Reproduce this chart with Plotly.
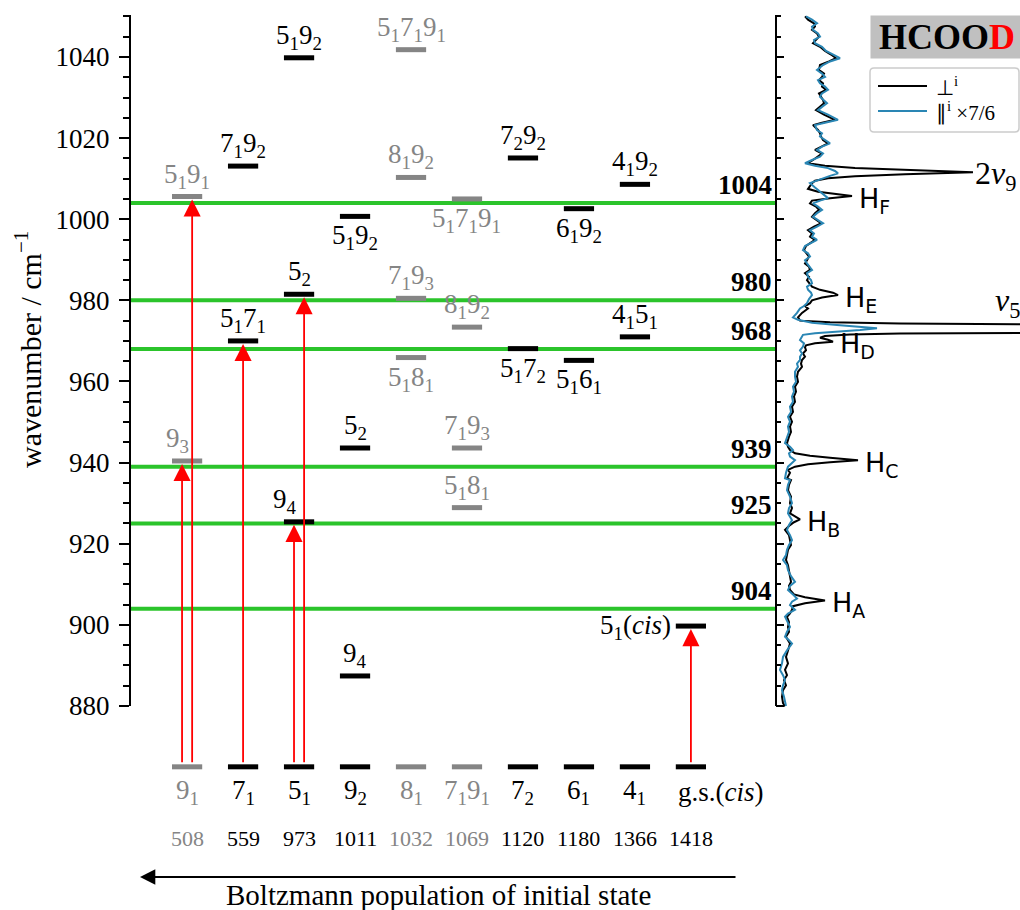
import plotly.graph_objects as go

W, H = 1020, 910
SERIF = "Liberation Serif, Times New Roman, serif"
SANS = "DejaVu Sans, sans-serif"
GRAY = "#858585"
GREEN = "#2bc42b"
BLUE = "#2a86b4"

# ---------------- level diagram data ----------------
# initial (lower) states, ordered by decreasing Boltzmann population
init_labels = ["9<sub>1</sub>", "7<sub>1</sub>", "5<sub>1</sub>", "9<sub>2</sub>", "8<sub>1</sub>",
               "7<sub>1</sub>9<sub>1</sub>", "7<sub>2</sub>", "6<sub>1</sub>", "4<sub>1</sub>",
               "g.s.(<i>cis</i>)"]
init_energy = [508, 559, 973, 1011, 1032, 1069, 1120, 1180, 1366, 1418]
init_faded = [True, False, False, False, True, True, False, False, False, False]
init_level = 865.0

# final states (column of the initial state, wavenumber, label, label side)
final_col = [0, 0, 1, 1, 2, 2, 2, 3, 3, 3, 4, 4, 4, 4, 5, 5, 5, 5, 6, 6, 7, 7, 8, 8, 9]
final_wn = [1005.6, 940.4, 1013.1, 970.0, 1039.8, 981.5, 925.4, 1000.7, 943.6, 887.4,
            1041.8, 1010.3, 980.5, 965.9, 1005.0, 973.4, 943.6, 928.9,
            1015.1, 968.1, 1002.6, 965.2, 1008.6, 971.0, 899.7]
final_labels = ["5<sub>1</sub>9<sub>1</sub>", "9<sub>3</sub>",
                "7<sub>1</sub>9<sub>2</sub>", "5<sub>1</sub>7<sub>1</sub>",
                "5<sub>1</sub>9<sub>2</sub>", "5<sub>2</sub>", "9<sub>4</sub>",
                "5<sub>1</sub>9<sub>2</sub>", "5<sub>2</sub>", "9<sub>4</sub>",
                "5<sub>1</sub>7<sub>1</sub>9<sub>1</sub>", "8<sub>1</sub>9<sub>2</sub>",
                "7<sub>1</sub>9<sub>3</sub>", "5<sub>1</sub>8<sub>1</sub>",
                "5<sub>1</sub>7<sub>1</sub>9<sub>1</sub>", "8<sub>1</sub>9<sub>2</sub>",
                "7<sub>1</sub>9<sub>3</sub>", "5<sub>1</sub>8<sub>1</sub>",
                "7<sub>2</sub>9<sub>2</sub>", "5<sub>1</sub>7<sub>2</sub>",
                "6<sub>1</sub>9<sub>2</sub>", "5<sub>1</sub>6<sub>1</sub>",
                "4<sub>1</sub>9<sub>2</sub>", "4<sub>1</sub>5<sub>1</sub>",
                "5<sub>1</sub>(<i>cis</i>)"]
final_side = ["above", "above", "above", "above", "above", "above", "above",
              "below", "above", "above", "above", "above", "above", "below",
              "below", "above", "above", "above", "above", "below",
              "below", "below", "above", "above", "left"]
# labels nudged sideways so that they clear an arrow shaft
final_label_dx = [0, -0.18, 0, 0, 0, 0, -0.25, 0, 0, 0, 0, 0, 0, 0,
                  0, 0, 0, 0, 0, 0, 0, 0, 0, 0, 0]

# excited transitions: index of the final state and offset inside the column
arrow_final = [1, 0, 3, 6, 5, 24]
arrow_offset = [-0.09, 0.09, 0.0, -0.09, 0.09, 0.0]

# observed hot-band positions
band_wn = [1004, 980, 968, 939, 925, 904]

# ---------------- spectrum data ----------------
perp_name = "⊥<sup>i</sup>"
par_name = "∥<sup>i</sup> ×7/6"

perp_wn = [1050.0, 1049.2, 1048.3, 1047.5, 1046.7, 1045.8, 1045.0, 1044.2, 1043.4, 1042.5,
           1041.5, 1040.6, 1039.7, 1038.9, 1038.0, 1036.8, 1035.9, 1035.1, 1034.3, 1033.5,
           1032.7, 1031.9, 1031.0, 1030.2, 1029.4, 1028.6, 1027.7, 1026.9, 1025.8, 1024.5,
           1023.8, 1023.2, 1022.0, 1021.2, 1020.4, 1019.5, 1018.7, 1017.9, 1017.1, 1016.2,
           1015.4, 1014.6, 1013.8, 1013.2, 1012.6, 1012.1, 1011.6, 1011.1, 1010.6, 1010.1,
           1009.5, 1008.9, 1008.2, 1007.5, 1006.8, 1006.2, 1005.7, 1005.2, 1004.6, 1003.9,
           1003.1, 1002.3, 1001.5, 1000.6, 999.8, 999.0, 998.2, 997.3, 996.5, 995.7,
           994.9, 994.0, 993.4, 992.4, 991.6, 990.8, 989.9, 989.1, 988.3, 987.5,
           986.7, 985.8, 985.0, 984.2, 983.4, 982.6, 981.9, 981.3, 980.7, 980.0,
           979.3, 978.6, 978.0, 976.9, 975.8, 975.0, 974.6, 974.3, 974.1, 973.9,
           973.1, 972.3, 972.0, 971.8, 971.6, 971.2, 970.8, 970.3, 969.8, 969.4,
           968.9, 968.4, 967.7, 966.9, 966.1, 965.3, 964.4, 963.6, 962.4, 961.2,
           959.9, 958.7, 957.5, 956.3, 955.0, 953.8, 952.5, 951.3, 950.1, 948.9,
           947.6, 946.4, 944.8, 943.9, 943.1, 942.3, 941.7, 941.2, 940.6, 940.1,
           939.6, 939.0, 938.2, 937.5, 936.1, 935.7, 934.5, 933.2, 931.6, 930.0,
           928.8, 927.5, 926.8, 926.0, 925.3, 924.6, 923.4, 922.1, 920.9, 919.7,
           918.5, 917.2, 916.0, 914.7, 913.5, 912.0, 910.6, 909.6, 908.6, 907.5,
           906.8, 906.0, 905.3, 904.6, 903.7, 902.8, 902.0, 900.7, 899.5, 898.3,
           897.1, 896.2, 895.4, 893.7, 892.1, 890.5, 888.9, 887.6, 886.4, 885.1,
           883.9, 882.3, 880.7, 880.0]
perp_int = [0.05, 0.08, 0.14, 0.15, 0.12, 0.17, 0.19, 0.16, 0.13, 0.20,
            0.25, 0.31, 0.36, 0.29, 0.20, 0.19, 0.24, 0.22, 0.19, 0.23,
            0.22, 0.26, 0.19, 0.21, 0.23, 0.24, 0.20, 0.16, 0.24, 0.35,
            0.22, 0.13, 0.18, 0.20, 0.21, 0.23, 0.28, 0.21, 0.15, 0.22,
            0.18, 0.13, 0.08, 0.25, 0.55, 1.10, 1.73, 1.05, 0.55, 0.28,
            0.15, 0.12, 0.10, 0.08, 0.18, 0.35, 0.52, 0.30, 0.12, 0.10,
            0.16, 0.19, 0.15, 0.12, 0.16, 0.21, 0.14, 0.08, 0.12, 0.10,
            0.15, 0.09, 0.06, 0.04, 0.07, 0.09, 0.07, 0.05, 0.09, 0.10,
            0.05, 0.09, 0.07, 0.10, 0.12, 0.20, 0.33, 0.38, 0.22, 0.12,
            0.10, 0.05, 0.08, 0.02, -0.02, 0.00, 0.30, 1.00, 2.60, 3.50,
            8.00, 3.50, 2.60, 1.00, 0.50, 0.25, 0.20, 0.28, 0.33, 0.15,
            0.06, 0.05, 0.06, 0.03, 0.05, 0.02, 0.01, 0.02, -0.02, -0.03,
            -0.02, -0.05, -0.04, -0.06, -0.05, -0.08, -0.07, -0.10, -0.08, -0.10,
            -0.09, -0.11, -0.13, -0.12, -0.10, -0.05, 0.10, 0.30, 0.58, 0.30,
            0.08, -0.05, -0.12, -0.10, -0.13, -0.09, -0.11, -0.12, -0.09, -0.10,
            -0.08, -0.10, -0.05, 0.00, -0.06, -0.10, -0.15, -0.11, -0.10, -0.09,
            -0.12, -0.13, -0.14, -0.12, -0.11, -0.10, -0.09, -0.11, -0.10, -0.06,
            0.05, 0.25, 0.05, -0.07, -0.08, -0.10, -0.13, -0.11, -0.12, -0.11,
            -0.14, -0.12, -0.10, -0.12, -0.14, -0.12, -0.15, -0.13, -0.16, -0.14,
            -0.17, -0.18, -0.17, -0.15]

par_wn = [1050.0, 1049.2, 1048.3, 1047.5, 1046.7, 1045.8, 1045.0, 1044.2, 1043.4, 1042.5,
          1041.5, 1040.6, 1039.7, 1038.9, 1038.0, 1036.8, 1035.9, 1035.1, 1034.3, 1033.5,
          1032.7, 1031.9, 1031.0, 1030.2, 1029.4, 1028.6, 1027.7, 1026.9, 1025.8, 1024.5,
          1023.8, 1023.2, 1022.0, 1021.2, 1020.4, 1019.5, 1018.7, 1017.9, 1017.1, 1016.2,
          1015.4, 1014.6, 1013.8, 1013.2, 1012.6, 1011.9, 1011.3, 1010.7, 1010.1, 1009.5,
          1008.9, 1007.8, 1006.8, 1006.0, 1005.2, 1004.6, 1003.9, 1003.1, 1002.3, 1001.5,
          1000.6, 999.8, 999.0, 998.2, 997.3, 996.5, 995.7, 994.9, 994.0, 993.4,
          992.4, 991.6, 990.8, 989.9, 989.1, 988.3, 987.5, 986.7, 985.8, 985.0,
          984.2, 983.4, 982.6, 981.9, 981.3, 980.3, 979.3, 978.6, 978.0, 976.9,
          975.8, 975.2, 974.5, 973.9, 973.5, 973.1, 972.7, 972.3, 971.9, 971.5,
          970.8, 970.2, 969.4, 968.6, 967.7, 966.9, 966.1, 965.3, 964.4, 963.6,
          962.4, 961.2, 959.9, 958.7, 957.5, 956.3, 955.0, 953.8, 952.5, 951.3,
          950.1, 948.9, 947.6, 946.4, 944.8, 943.9, 943.1, 942.3, 941.5, 940.6,
          939.8, 939.0, 937.5, 936.1, 935.7, 934.5, 933.2, 931.6, 930.0, 928.8,
          927.5, 925.8, 924.6, 923.4, 922.1, 920.9, 919.7, 918.5, 917.2, 916.0,
          914.7, 913.5, 912.0, 910.6, 909.6, 908.6, 907.5, 906.5, 905.7, 904.9,
          903.7, 902.8, 902.0, 900.7, 899.5, 898.3, 897.1, 896.2, 895.4, 893.7,
          892.1, 890.5, 888.9, 887.6, 886.4, 885.1, 883.9, 882.3, 880.7, 880.0]
par_int = [0.06, 0.12, 0.17, 0.12, 0.13, 0.18, 0.20, 0.14, 0.15, 0.22,
           0.26, 0.33, 0.40, 0.30, 0.23, 0.17, 0.22, 0.25, 0.18, 0.20,
           0.25, 0.28, 0.22, 0.20, 0.24, 0.27, 0.22, 0.18, 0.28, 0.38,
           0.25, 0.15, 0.17, 0.22, 0.20, 0.25, 0.30, 0.22, 0.17, 0.23,
           0.20, 0.12, 0.05, 0.15, 0.28, 0.35, 0.38, 0.30, 0.23, 0.15,
           0.10, 0.15, 0.20, 0.24, 0.28, 0.20, 0.13, 0.18, 0.22, 0.17,
           0.13, 0.18, 0.23, 0.17, 0.10, 0.14, 0.12, 0.17, 0.10, 0.05,
           0.03, 0.08, 0.10, 0.05, 0.07, 0.10, 0.12, 0.07, 0.08, 0.11,
           0.12, 0.07, 0.08, 0.11, 0.12, 0.09, 0.07, 0.04, 0.00, -0.03,
           -0.07, -0.02, 0.12, 0.37, 0.62, 0.77, 0.60, 0.37, 0.15, 0.03,
           0.01, 0.00, 0.04, 0.03, 0.00, 0.02, 0.00, 0.00, -0.03, -0.02,
           -0.05, -0.05, -0.04, -0.07, -0.06, -0.08, -0.07, -0.10, -0.09, -0.12,
           -0.10, -0.12, -0.11, -0.13, -0.15, -0.10, -0.07, -0.11, -0.10, -0.05,
           -0.09, -0.12, -0.14, -0.15, -0.10, -0.12, -0.13, -0.10, -0.08, -0.11,
           -0.12, -0.08, -0.11, -0.13, -0.10, -0.08, -0.11, -0.13, -0.14, -0.17,
           -0.13, -0.12, -0.09, -0.05, -0.10, -0.12, -0.07, -0.03, -0.08, -0.10,
           -0.05, -0.12, -0.15, -0.12, -0.10, -0.13, -0.15, -0.11, -0.08, -0.13,
           -0.17, -0.18, -0.20, -0.17, -0.15, -0.17, -0.18, -0.16, -0.15, -0.14]

peak_labels = ["H<sub>A</sub>", "H<sub>B</sub>", "H<sub>C</sub>",
               "H<sub>D</sub>", "H<sub>E</sub>", "H<sub>F</sub>"]
peak_wn = [906.0, 926.0, 940.6, 969.8, 981.3, 1005.7]
peak_int = [0.25, 0.00, 0.58, 0.33, 0.38, 0.52]

fund_labels = ["2<i>ν</i><sub>9</sub>", "<i>ν</i><sub>5</sub>"]
fund_wn = [1011.6, 973.1]

# ---------------- geometry ----------------
def px(x):
    return x / W


def py(y):
    return 1 - y / H


HALF = 0.27                   # half width of a level bar (column units)
Y_RANGE = [860.0, 1050.35]
Y_DOMAIN = [py(787.1), py(15)]
X_RANGE = [-1.02, 10.52]
X2_RANGE = [-0.24, 2.20]

fig = go.Figure()


def bar_xy(cols, vals):
    xs, ys = [], []
    for c, v in zip(cols, vals):
        xs += [c - HALF, c + HALF, None]
        ys += [v, v, None]
    return xs, ys


# level bars (faded columns in grey)
for faded, color in [(True, GRAY), (False, "black")]:
    cols = [c for c in range(len(init_labels)) if init_faded[c] == faded]
    cols += [c for c in final_col if init_faded[c] == faded]
    vals = [init_level for c in range(len(init_labels)) if init_faded[c] == faded]
    vals += [v for c, v in zip(final_col, final_wn) if init_faded[c] == faded]
    xs, ys = bar_xy(cols, vals)
    fig.add_trace(go.Scatter(x=xs, y=ys, mode="lines", line=dict(color=color, width=5),
                             hoverinfo="skip", showlegend=False, xaxis="x", yaxis="y"))

# spectrum
spec_series = [(perp_name, perp_wn, perp_int, "black"),
               (par_name, par_wn, par_int, BLUE)]
for name, wn, inten, color in spec_series:
    fig.add_trace(go.Scatter(x=inten, y=wn, mode="lines", name=name,
                             line=dict(color=color, width=2), showlegend=False,
                             xaxis="x2", yaxis="y2"))

shapes = []
annotations = []

# hot-band lines with their positions
for wn in band_wn:
    shapes.append(dict(type="line", xref="x domain", yref="y", x0=0, x1=1, y0=wn, y1=wn,
                       line=dict(color=GREEN, width=4), layer="below"))
    annotations.append(dict(xref="x domain", yref="y", x=1, y=wn, xanchor="right",
                            yanchor="bottom", xshift=-2, yshift=1, showarrow=False,
                            text=f"<b>{wn}</b>",
                            font=dict(family=SERIF, size=27, color="black")))

# spines limited to the wavenumber scale
shapes.append(dict(type="line", xref="x domain", yref="y", x0=0, x1=0,
                   y0=880, y1=Y_RANGE[1], line=dict(color="black", width=2)))
shapes.append(dict(type="line", xref="x2 domain", yref="y2", x0=0, x1=0,
                   y0=880, y1=Y_RANGE[1], line=dict(color="black", width=2)))
shapes.append(dict(type="line", xref="x2 domain", yref="y2", x0=0, x1=0.035,
                   y0=880, y1=880, line=dict(color="black", width=2)))

# final-state labels
for c, wn, lab, side, dx in zip(final_col, final_wn, final_labels, final_side, final_label_dx):
    color = GRAY if init_faded[c] else "black"
    a = dict(xref="x", yref="y", x=c + dx, y=wn, showarrow=False, text=lab,
             font=dict(family=SERIF, size=27, color=color), yanchor="middle")
    if side == "above":
        a.update(xanchor="center", yshift=21)
    elif side == "below":
        a.update(xanchor="center", yshift=-21)
    else:
        a.update(x=c - HALF, xanchor="right", xshift=-3, yshift=-1)
    annotations.append(a)

# initial-state labels and energies
for c, (lab, en) in enumerate(zip(init_labels, init_energy)):
    color = GRAY if init_faded[c] else "black"
    lab_pos = dict(x=c, xanchor="center")
    if "g.s." in lab:
        lab_pos = dict(x=c - HALF, xanchor="left")
    annotations.append(dict(xref="x", yref="paper", y=py(792), showarrow=False,
                            text=lab, yanchor="middle",
                            font=dict(family=SERIF, size=27, color=color), **lab_pos))
    annotations.append(dict(xref="x", yref="paper", x=c, y=py(838), showarrow=False,
                            text=str(en), xanchor="center", yanchor="middle",
                            font=dict(family=SERIF, size=22, color=color)))

# excitation arrows
for k, dx in zip(arrow_final, arrow_offset):
    xc = final_col[k] + dx
    annotations.append(dict(xref="x", yref="y", axref="x", ayref="y",
                            x=xc, y=final_wn[k], ax=xc, ay=init_level, text="",
                            showarrow=True, arrowhead=2, arrowsize=1.9, arrowwidth=1.8,
                            arrowcolor="red", standoff=3, startstandoff=3))

# population arrow and caption
annotations.append(dict(xref="paper", yref="paper", x=px(140), y=py(877), ax=597, ay=0,
                        text="", showarrow=True, arrowhead=2, arrowsize=1.7, arrowwidth=1.8,
                        arrowcolor="black", standoff=0))
annotations.append(dict(xref="paper", yref="paper", x=px(438), y=py(895), showarrow=False,
                        text="Boltzmann population of initial state", xanchor="center",
                        yanchor="middle", font=dict(family=SERIF, size=29, color="black")))

# axis title
annotations.append(dict(xref="paper", yref="paper", x=px(28), y=py(350), showarrow=False,
                        text="wavenumber / cm<sup>−1</sup>", textangle=-90,
                        xanchor="center", yanchor="middle",
                        font=dict(family=SERIF, size=30, color="black")))

# spectrum peak labels
for lab, wn, it in zip(peak_labels, peak_wn, peak_int):
    annotations.append(dict(xref="x2", yref="y2", x=it, y=wn, showarrow=False, text=lab,
                            xanchor="left", yanchor="middle", xshift=5, yshift=-4,
                            font=dict(family=SANS, size=27, color="black")))
annotations.append(dict(xref="x2", yref="y2", x=perp_int[perp_wn.index(fund_wn[0])],
                        y=fund_wn[0], showarrow=False, text=fund_labels[0],
                        xanchor="left", yanchor="middle", xshift=0, yshift=-3,
                        font=dict(family=SERIF, size=32, color="black")))
annotations.append(dict(xref="x2", yref="y2", x=1.93, y=fund_wn[1], showarrow=False,
                        text=fund_labels[1], xanchor="left", yanchor="bottom", yshift=3,
                        font=dict(family=SERIF, size=32, color="black")))

# molecule tag
annotations.append(dict(xref="paper", yref="paper", x=px(870), y=py(15), showarrow=False,
                        text="<b>HCOO<span style='color:red'>D</span></b>",
                        xanchor="left", yanchor="top", width=148, height=38,
                        bgcolor="#c0c0c0", borderpad=2, align="center", valign="middle",
                        font=dict(family=SERIF, size=36, color="black")))

# legend box for the two spectra
lx0, lx1, ly0, ly1 = px(870), px(1019), py(132), py(68)
rx, ry = 4 / W, 4 / H
shapes.append(dict(
    type="path", xref="paper", yref="paper", fillcolor="white",
    line=dict(color="#cccccc", width=1.5),
    path=(f"M{lx0 + rx},{ly1} L{lx1 - rx},{ly1} Q{lx1},{ly1} {lx1},{ly1 - ry} "
          f"L{lx1},{ly0 + ry} Q{lx1},{ly0} {lx1 - rx},{ly0} L{lx0 + rx},{ly0} "
          f"Q{lx0},{ly0} {lx0},{ly0 + ry} L{lx0},{ly1 - ry} Q{lx0},{ly1} {lx0 + rx},{ly1} Z")))
for (name, _, _, color), ypix in zip(spec_series, [86, 111]):
    shapes.append(dict(type="line", xref="paper", yref="paper", x0=px(878), x1=px(927),
                       y0=py(ypix), y1=py(ypix), line=dict(color=color, width=2)))
    annotations.append(dict(xref="paper", yref="paper", x=px(934), y=py(ypix),
                            showarrow=False, text=name, xanchor="left", yanchor="middle",
                            font=dict(family=SERIF, size=21, color="black")))

major = list(range(880, 1041, 20))
minor = [v for v in range(885, 1051, 5) if v % 20 != 0]

fig.update_layout(
    width=W, height=H, autosize=False,
    margin=dict(l=0, r=0, t=0, b=0),
    paper_bgcolor="white", plot_bgcolor="white",
    showlegend=False,
    shapes=shapes, annotations=annotations,
    xaxis=dict(domain=[px(130), px(776)], range=X_RANGE, visible=False),
    yaxis=dict(domain=Y_DOMAIN, range=Y_RANGE, anchor="x", showgrid=False, zeroline=False,
               showline=False, tickmode="array", tickvals=major, ticks="outside",
               ticklen=10, tickwidth=2, tickcolor="black", ticklabelstandoff=4,
               tickfont=dict(family=SERIF, size=27, color="black"),
               minor=dict(tickmode="array", tickvals=minor, ticks="outside", ticklen=6,
                          tickwidth=1.5, tickcolor="black", showgrid=False)),
    xaxis2=dict(domain=[px(776), 1.0], range=X2_RANGE, visible=False, anchor="y2"),
    yaxis2=dict(domain=Y_DOMAIN, range=Y_RANGE, anchor="x2", showgrid=False, zeroline=False,
                showline=False, tickmode="array", tickvals=major, ticks="inside",
                ticklen=8, tickwidth=2, tickcolor="black", showticklabels=False,
                minor=dict(tickmode="array", tickvals=minor, ticks="inside", ticklen=5,
                           tickwidth=1.5, tickcolor="black", showgrid=False)),
)

fig.write_html("out.html")
